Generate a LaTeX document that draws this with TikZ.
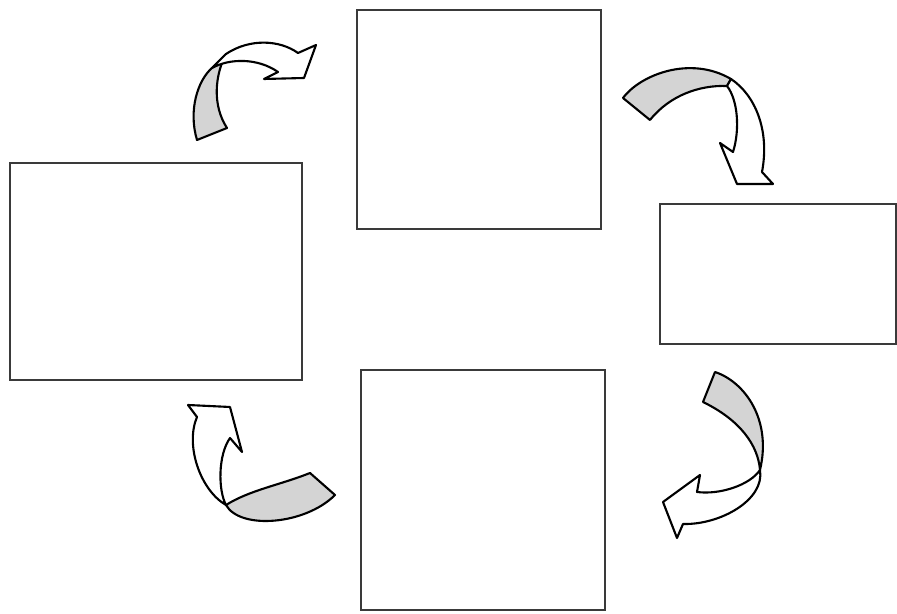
\documentclass[tikz,border=0pt]{standalone}
\usepackage{xcolor}
\usepackage{tikz}
\definecolor{edgegray}{HTML}{3A3A3A}
\definecolor{backgray}{HTML}{D4D4D4}

\begin{document}
\begin{tikzpicture}[
  x=0.02cm, y=-0.02cm,
  box/.style = {
    rectangle, draw=edgegray, line width=1.1pt,
    fill=white, inner sep=0pt
  },
  backside/.style = {fill=backgray, draw=black, line width=1.2pt, line join=round},
  frontside/.style = {fill=white, draw=black, line width=1.2pt, line join=round}
]
  \useasboundingbox (0,0) rectangle (897,614);

  \node[box, minimum width=4.88cm, minimum height=4.38cm] (top)    at (479,119.5) {};
  \node[box, minimum width=5.84cm, minimum height=4.34cm] (left)   at (156,271.5) {};
  \node[box, minimum width=4.72cm, minimum height=2.80cm] (right)  at (778,274)   {};
  \node[box, minimum width=4.88cm, minimum height=4.80cm] (bottom) at (483,490)   {};

  % left -> top
  \draw[backside] (197,140) .. controls (188,110) and (198,80) .. (212,68)
    -- (226,54) .. controls (215,75) and (212,105) .. (227,128) -- cycle;
  \draw[frontside] (212,68) -- (226,54) .. controls (250,38) and (280,40) .. (298,53)
    -- (316,45) -- (304,78) -- (264,79) -- (278,72)
    .. controls (258,58) and (230,58) .. (212,68) -- cycle;

  % top -> right
  \draw[backside] (623,98) .. controls (640,75) and (690,55) .. (731,79)
    -- (727,86) .. controls (700,85) and (670,95) .. (650,120) -- cycle;
  \draw[frontside] (727,86) -- (731,79) .. controls (755,95) and (770,130) .. (762,172)
    -- (773,184) -- (737,184) -- (720,143) -- (733,152)
    .. controls (740,130) and (738,100) .. (727,86) -- cycle;

  % right -> bottom
  \draw[backside] (715,372) .. controls (745,382) and (772,420) .. (760,470)
    .. controls (758,445) and (740,420) .. (703,402) -- cycle;
  \draw[frontside] (760,470) .. controls (765,500) and (720,525) .. (683,524)
    -- (677,538) -- (663,502) -- (700,475) -- (697,492)
    .. controls (720,495) and (750,485) .. (760,470) -- cycle;

  % bottom -> left
  \draw[backside] (310,473) .. controls (280,485) and (250,490) .. (226,505)
    .. controls (240,530) and (305,525) .. (335,495) -- cycle;
  \draw[frontside] (226,505) .. controls (200,490) and (185,445) .. (197,417)
    -- (188,405) -- (230,407) -- (242,452) -- (230,438)
    .. controls (218,455) and (218,490) .. (226,505) -- cycle;
\end{tikzpicture}
\end{document}
